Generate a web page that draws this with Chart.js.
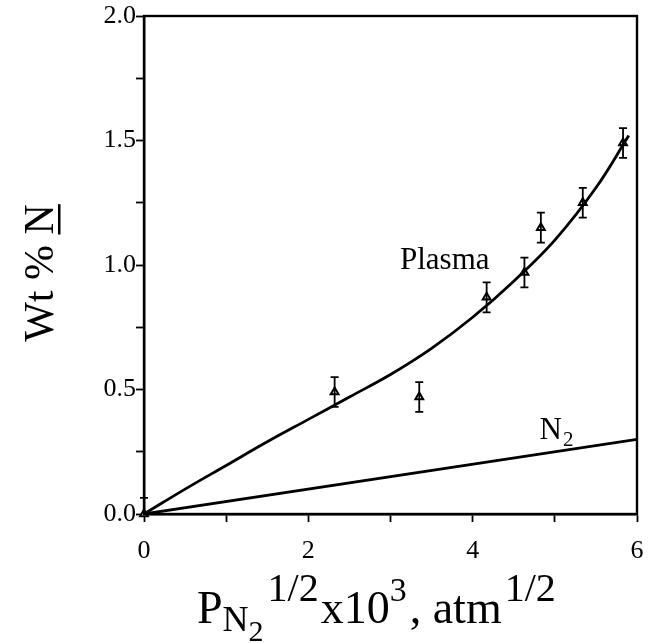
<!DOCTYPE html>
<html><head><meta charset="utf-8">
<script src="https://cdn.jsdelivr.net/npm/chart.js@4.4.0/dist/chart.umd.min.js"></script>
<style>html,body{margin:0;padding:0;background:#fff}#wrap{width:661px;height:643px}</style>
</head><body><div id="wrap"><canvas id="c" width="661" height="643"></canvas></div>
<script>
// ---- data ----
const pointX   = [0, 2.32, 3.35, 4.17, 4.63, 4.83, 5.34, 5.83];
const pointY   = [0, 0.49, 0.47, 0.87, 0.97, 1.15, 1.25, 1.49];
const pointErr = [0.065, 0.06, 0.06, 0.06, 0.06, 0.06, 0.06, 0.06];
const plasmaX  = [0, 0.5, 1.0, 1.5, 2.0, 2.5, 3.0, 3.5, 4.0, 4.5, 5.0, 5.5, 5.9];
const plasmaY  = [0, 0.10, 0.195, 0.29, 0.38, 0.47, 0.56, 0.665, 0.79, 0.935, 1.10, 1.31, 1.52];
const n2X      = [0, 6];
const n2Y      = [0, 0.30];
const xTickLabels = ['0', '2', '4', '6'];
const yTickLabels = ['0.0', '0.5', '1.0', '1.5', '2.0'];
const curveLabels = [{text: 'Plasma', x: 3.66, y: 1.03}, {text: 'N', sub: '2', x: 4.95, y: 0.345}];

const SERIF = '"Liberation Serif", "Times New Roman", serif';
const toXY = (xs, ys) => xs.map((x, i) => ({x: x, y: ys[i]}));

const errorBars = {
  id: 'errorBars',
  afterDatasetsDraw(chart) {
    const ctx = chart.ctx, xs = chart.scales.x, ys = chart.scales.y;
    ctx.save();
    ctx.strokeStyle = '#000';
    ctx.lineWidth = 1.8;
    pointX.forEach((x, i) => {
      const px = xs.getPixelForValue(x);
      const top = ys.getPixelForValue(pointY[i] + pointErr[i]);
      const bot = ys.getPixelForValue(Math.max(0, pointY[i] - pointErr[i]));
      ctx.beginPath();
      ctx.moveTo(px, top); ctx.lineTo(px, bot);
      ctx.moveTo(px - 4, top); ctx.lineTo(px + 4, top);
      if (pointY[i] - pointErr[i] > 0) { ctx.moveTo(px - 4, bot); ctx.lineTo(px + 4, bot); }
      ctx.stroke();
    });
    ctx.restore();
  }
};

const frameAndText = {
  id: 'frameAndText',
  afterDraw(chart) {
    const ctx = chart.ctx, a = chart.chartArea, xs = chart.scales.x, ys = chart.scales.y;
    ctx.save();
    ctx.strokeStyle = '#000';
    ctx.lineWidth = 2.4;
    ctx.strokeRect(a.left, a.top, a.right - a.left, a.bottom - a.top);
    ctx.fillStyle = '#000';
    ctx.textBaseline = 'alphabetic';
    // curve labels
    curveLabels.forEach(l => {
      const px = xs.getPixelForValue(l.x), py = ys.getPixelForValue(l.y);
      ctx.font = '31px ' + SERIF;
      ctx.textAlign = 'left';
      const w = ctx.measureText(l.text).width;
      const x0 = px - w / 2;
      ctx.fillText(l.text, x0, py + 11);
      if (l.sub) {
        ctx.font = '21px ' + SERIF;
        ctx.fillText(l.sub, x0 + w + 1, py + 18);
      }
    });
    // y title (rotated) "Wt % N" with N underlined
    ctx.save();
    ctx.translate(53, (a.top + a.bottom) / 2 + 8);
    ctx.rotate(-Math.PI / 2);
    ctx.font = '42px ' + SERIF;
    const t1 = 'Wt % ', t2 = 'N';
    const w1 = ctx.measureText(t1).width, w2 = ctx.measureText(t2).width;
    const sx = -(w1 + w2) / 2;
    ctx.fillText(t1, sx, 0);
    ctx.fillText(t2, sx + w1, 0);
    ctx.fillRect(sx + w1, 5, w2, 2.5);
    ctx.restore();
    // x title with sub/superscripts
    const parts = [
      {t: 'P', s: 46, dy: 0},
      {t: 'N', s: 36, dy: 8},
      {t: '2', s: 30, dy: 18},
      {t: '1/2', s: 40, dy: -22, gap: 4},
      {t: 'x10', s: 46, dy: 0, gap: 2},
      {t: '3', s: 34, dy: -22},
      {t: ', atm', s: 46, dy: 0, gap: 3},
      {t: '1/2', s: 40, dy: -22, gap: 3}
    ];
    let cx = 197;
    const base = 623;
    parts.forEach(p => {
      ctx.font = p.s + 'px ' + SERIF;
      cx += (p.gap || 0);
      ctx.fillText(p.t, cx, base + p.dy);
      cx += ctx.measureText(p.t).width;
    });
    ctx.restore();
  }
};

new Chart(document.getElementById('c'), {
  type: 'scatter',
  data: {
    datasets: [
      {
        label: 'Plasma fit', type: 'line', data: toXY(plasmaX, plasmaY),
        borderColor: '#000', borderWidth: 2.8, pointRadius: 0, fill: false,
        tension: 0.4, clip: false
      },
      {
        label: 'N2', type: 'line', data: toXY(n2X, n2Y),
        borderColor: '#000', borderWidth: 2.8, pointRadius: 0, fill: false
      },
      {
        label: 'Plasma data', data: toXY(pointX, pointY),
        pointStyle: 'triangle', pointRadius: 4.5, borderColor: '#000',
        backgroundColor: '#fff', borderWidth: 2, clip: false
      }
    ]
  },
  options: {
    responsive: false,
    animation: false,
    devicePixelRatio: 1,
    layout: {padding: {left: 0, top: 16, right: 24, bottom: 0}},
    plugins: {legend: {display: false}, tooltip: {enabled: false}},
    scales: {
      x: {
        type: 'linear', min: 0, max: 6,
        afterFit: s => { s.height = 129; },
        grid: {drawOnChartArea: false, drawTicks: true, tickLength: 8, tickColor: '#000', tickWidth: 1.8},
        border: {display: true, color: '#000', width: 2.4},
        ticks: {
          stepSize: 1, color: '#000', padding: 14,
          font: {family: SERIF, size: 26},
          callback: v => (Math.round(v) % 2 === 0 ? xTickLabels[Math.round(v) / 2] : '')
        }
      },
      y: {
        type: 'linear', min: 0, max: 2,
        afterFit: s => { s.width = 144; },
        grid: {drawOnChartArea: false, drawTicks: true, tickLength: 8, tickColor: '#000', tickWidth: 1.8},
        border: {display: true, color: '#000', width: 2.4},
        ticks: {
          stepSize: 0.25, color: '#000', padding: 0,
          font: {family: SERIF, size: 26},
          callback: v => {
            const k = v * 2;
            return Math.abs(k - Math.round(k)) < 1e-6 ? yTickLabels[Math.round(k)] : '';
          }
        }
      }
    }
  },
  plugins: [errorBars, frameAndText]
});
</script>
</body></html>
